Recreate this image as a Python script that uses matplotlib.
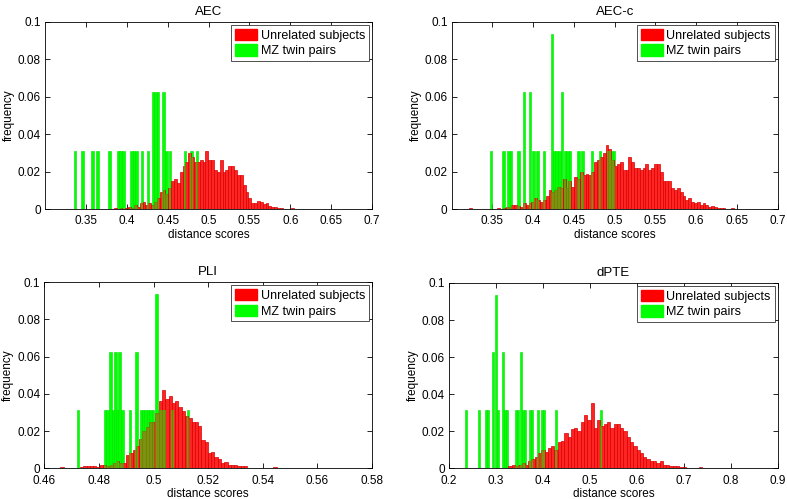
import numpy as np
import matplotlib
matplotlib.use('Agg')
import matplotlib.pyplot as plt
from matplotlib.path import Path
from matplotlib.patches import Patch
from matplotlib.ticker import FormatStrFormatter

plt.rcParams['font.family'] = ['Liberation Sans', 'DejaVu Sans']

n_twins = 32   # MZ twin pairs -> each pair is 1/32 of the green histogram

# ---- AEC ----
aec_red_start = 0.386
aec_red_width = 0.0035
aec_red = [0.0005, 0, 0.0005, 0, 0.0005, 0.001, 0.0005, 0.002, 0.001, 0.003,
           0.004, 0.002, 0.003, 0.002, 0.004, 0.006, 0.009, 0.010, 0.008, 0.011,
           0.015, 0.016, 0.014, 0.020, 0.023, 0.025, 0.030, 0.028, 0.025, 0.025,
           0.026, 0.025, 0.031, 0.026, 0.026, 0.021, 0.020, 0.026, 0.020, 0.021,
           0.023, 0.023, 0.021, 0.018, 0.018, 0.013, 0.009, 0.006, 0.003, 0.003,
           0.0043, 0.004, 0.0025, 0.0034, 0.0018, 0.0012, 0.0012, 0.0007, 0.0005, 0.0003,
           0.0002, 0.0002, 0.0008]
aec_green_pos = [0.3367, 0.346, 0.358, 0.3644, 0.3787, 0.3897, 0.3925, 0.3958, 0.406, 0.409,
                 0.412, 0.4187, 0.426, 0.4322, 0.4352, 0.4382, 0.4447, 0.4488, 0.4529, 0.4713,
                 0.4794, 0.4859]
aec_green_cnt = [1, 1, 1, 1, 1, 1, 1, 1, 1, 1,
                 1, 1, 1, 2, 2, 2, 2, 1, 1, 1,
                 1, 1]

# ---- AEC-c ----
aecc_red_start = 0.3225
aecc_red_width = 0.0035
aecc_red = [0.0005, 0, 0, 0, 0, 0, 0, 0, 0, 0,
            0.0005, 0.0003, 0.0005, 0.001, 0.001, 0.002, 0.002, 0.0015, 0.001, 0.003,
            0.002, 0.003, 0.004, 0.006, 0.005, 0.004, 0.005, 0.007, 0.010, 0.009,
            0.010, 0.012, 0.011, 0.016, 0.011, 0.015, 0.012, 0.017, 0.016, 0.020,
            0.018, 0.019, 0.018, 0.020, 0.025, 0.026, 0.028, 0.030, 0.034, 0.032,
            0.026, 0.023, 0.024, 0.025, 0.021, 0.021, 0.028, 0.025, 0.022, 0.022,
            0.021, 0.022, 0.024, 0.021, 0.022, 0.024, 0.024, 0.020, 0.015, 0.015,
            0.015, 0.011, 0.010, 0.011, 0.009, 0.007, 0.005, 0.006, 0.004, 0.003,
            0.004, 0.002, 0.003, 0.002, 0.001, 0.0015, 0.001, 0.0008, 0.0005, 0.0007,
            0.0003, 0, 0.0005, 0.0003, 0, 0.0003, 0.0002, 0, 0.0002, 0.0003,
            0.0002]
aecc_green_pos = [0.348, 0.3634, 0.3695, 0.3725, 0.3818, 0.3888, 0.3961, 0.4002, 0.405, 0.4133,
                  0.4227, 0.4257, 0.4288, 0.4322, 0.4354, 0.4390, 0.4420, 0.4450, 0.4554, 0.4607,
                  0.4718, 0.482, 0.4922, 0.4963, 0.4993]
aecc_green_cnt = [1, 1, 1, 1, 1, 2, 2, 1, 1, 1,
                  3, 1, 1, 1, 2, 1, 1, 1, 1, 1,
                  1, 1, 1, 1, 1]

# ---- PLI ----
pli_red_start = 0.4665
pli_red_width = 0.0012
pli_red = [0.0005, 0, 0, 0, 0, 0.0003, 0.0005, 0.001, 0.001, 0.0015,
           0.001, 0.0005, 0.002, 0.002, 0.001, 0.002, 0.003, 0.004, 0.003, 0.003,
           0.007, 0.008, 0.010, 0.012, 0.016, 0.020, 0.022, 0.025, 0.025, 0.030,
           0.036, 0.042, 0.037, 0.039, 0.035, 0.036, 0.033, 0.031, 0.028, 0.027,
           0.025, 0.025, 0.023, 0.015, 0.014, 0.008, 0.009, 0.006, 0.005, 0.003,
           0.0035, 0.002, 0.002, 0.002, 0.001, 0.001, 0.001, 0, 0, 0,
           0, 0, 0, 0, 0, 0.0005]
pli_green_pos = [0.4724, 0.4822, 0.4831, 0.4843, 0.4851, 0.4860, 0.4868, 0.4876, 0.4886, 0.4913,
                 0.4938, 0.4953, 0.4962, 0.4971, 0.4980, 0.4989, 0.4998, 0.5011, 0.5022, 0.5031,
                 0.5040, 0.5070, 0.5127]
pli_green_cnt = [1, 1, 1, 2, 1, 2, 1, 2, 1, 1,
                 2, 1, 1, 1, 1, 1, 1, 3, 1, 1,
                 1, 1, 1]

# ---- dPTE ----
dpte_red_start = 0.33
dpte_red_width = 0.007
dpte_red = [0.001, 0.002, 0.001, 0.002, 0.003, 0.002, 0.004, 0.005, 0.006, 0.008,
            0.010, 0.009, 0.011, 0.012, 0.010, 0.014, 0.015, 0.019, 0.017, 0.021,
            0.022, 0.020, 0.025, 0.029, 0.026, 0.035, 0.022, 0.026, 0.023, 0.024,
            0.025, 0.022, 0.024, 0.024, 0.022, 0.020, 0.017, 0.014, 0.012, 0.010,
            0.008, 0.006, 0.005, 0.004, 0.004, 0.003, 0.004, 0.002, 0.002, 0.001,
            0.001, 0.0015, 0.0005, 0.0005, 0, 0, 0, 0, 0.0005]
dpte_green_pos = [0.2362, 0.2646, 0.2788, 0.2833, 0.2944, 0.3001, 0.3050, 0.3157, 0.3197, 0.3237,
                  0.3427, 0.3477, 0.3527, 0.3577, 0.3627, 0.3727, 0.3777, 0.3903, 0.3974, 0.4024,
                  0.4279, 0.523]
dpte_green_cnt = [1, 1, 1, 1, 2, 3, 1, 2, 1, 1,
                  1, 1, 2, 1, 1, 1, 1, 1, 1, 1,
                  1, 1]


def draw_panel(ax, title, xlim, xticks, red_start, red_width, red_freq,
               green_pos, green_cnt, green_width):
    red_x = red_start + red_width * np.arange(len(red_freq))
    red_freq = np.array(red_freq)
    green_freq = np.array(green_cnt) / n_twins

    ax.bar(green_pos, green_freq, width=green_width, color='#00ff00',
           edgecolor='#00e000', linewidth=0.4, zorder=2)
    ax.bar(red_x, red_freq, width=red_width, color='#ff2424',
           edgecolor='#d80000', linewidth=0.5, zorder=3)
    # green shows through the red where they overlap (olive)
    over = ax.bar(green_pos, green_freq, width=green_width, color='#00ff00',
                  alpha=0.5, linewidth=0, zorder=4)
    paths = []
    for x, h in zip(red_x, red_freq):
        x0, x1 = x - red_width / 2, x + red_width / 2
        paths.append(Path([(x0, 0), (x1, 0), (x1, h), (x0, h), (x0, 0)],
                          [Path.MOVETO, Path.LINETO, Path.LINETO, Path.LINETO, Path.CLOSEPOLY]))
    clip = Path.make_compound_path(*paths)
    for p in over:
        p.set_clip_path(clip, ax.transData)

    ax.set_xlim(xlim)
    ax.set_ylim(0, 0.1)
    ax.set_xticks(xticks)
    ax.set_yticks(np.arange(0, 0.101, 0.02))
    ax.xaxis.set_major_formatter(FormatStrFormatter('%g'))
    ax.yaxis.set_major_formatter(FormatStrFormatter('%g'))
    ax.tick_params(direction='in', top=True, right=True, length=3.5, width=0.6,
                   labelsize=8.5)
    ax.tick_params(axis='x', pad=4.5)
    ax.tick_params(axis='y', pad=3)
    for s in ax.spines.values():
        s.set_linewidth(0.6)
    ax.set_title(title, fontsize=9.5, pad=5)
    ax.set_xlabel('distance scores', fontsize=8.5, labelpad=1)
    ax.set_ylabel('frequency', fontsize=8.5, labelpad=2)
    handles = [Patch(facecolor='#ff0000', edgecolor='#ff0000'),
               Patch(facecolor='#00ff00', edgecolor='#00ff00')]
    leg = ax.legend(handles, ['Unrelated subjects', 'MZ twin pairs'], loc='upper right',
                    fontsize=9, fancybox=False, framealpha=1, edgecolor='#333333',
                    borderaxespad=0.25, handlelength=1.75, handleheight=1.0,
                    handletextpad=0.3, borderpad=0.3, labelspacing=0.22)
    leg.get_frame().set_linewidth(0.6)


fig = plt.figure(figsize=(7.87, 4.99), dpi=100)
ax1 = fig.add_axes([0.0572, 0.581, 0.4155, 0.375])
ax2 = fig.add_axes([0.574, 0.581, 0.4142, 0.375])
ax3 = fig.add_axes([0.0563, 0.0615, 0.4165, 0.3728])
ax4 = fig.add_axes([0.5705, 0.0615, 0.4177, 0.3715])

draw_panel(ax1, 'AEC', (0.3, 0.7), np.arange(0.35, 0.701, 0.05),
           aec_red_start, aec_red_width, aec_red, aec_green_pos, aec_green_cnt, 0.003)
draw_panel(ax2, 'AEC-c', (0.3, 0.7), np.arange(0.35, 0.701, 0.05),
           aecc_red_start, aecc_red_width, aecc_red, aecc_green_pos, aecc_green_cnt, 0.003)
draw_panel(ax3, 'PLI', (0.46, 0.58), np.arange(0.46, 0.581, 0.02),
           pli_red_start, pli_red_width, pli_red, pli_green_pos, pli_green_cnt, 0.0009)
draw_panel(ax4, 'dPTE', (0.2, 0.9), np.arange(0.2, 0.901, 0.1),
           dpte_red_start, dpte_red_width, dpte_red, dpte_green_pos, dpte_green_cnt, 0.004)

fig.savefig('out.png', dpi=100)
